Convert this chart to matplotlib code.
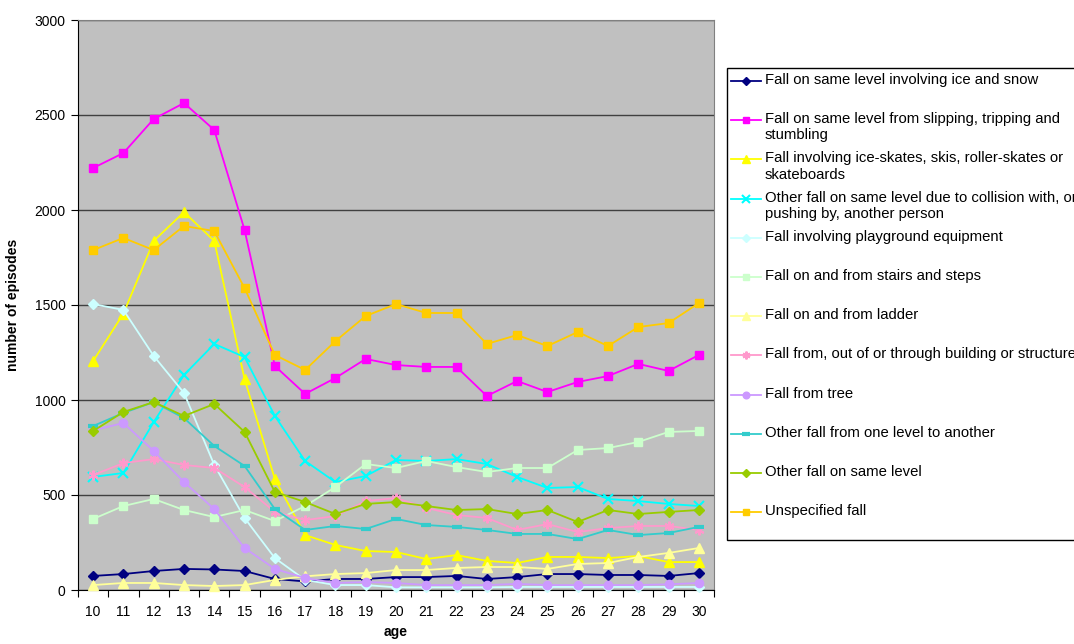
import matplotlib
matplotlib.use('Agg')
import matplotlib.pyplot as plt
from matplotlib.lines import Line2D
from matplotlib.patches import Rectangle
from matplotlib.ticker import MultipleLocator, FixedLocator

plt.rcParams['font.family'] = ['Liberation Sans', 'DejaVu Sans']

ages = list(range(10, 31))

ice_snow = [74, 84, 100, 111, 108, 100, 58, 45, 58, 58, 68, 68, 74, 58, 68, 84, 84, 79, 79, 74, 89]
slipping = [2221, 2300, 2479, 2563, 2421, 1895, 1179, 1032, 1116, 1216, 1184, 1174, 1174, 1021, 1100,
            1042, 1095, 1126, 1190, 1153, 1237]
skates = [1205, 1455, 1837, 1989, 1837, 1110, 584, 289, 237, 205, 200, 163, 184, 153, 142, 174, 174,
          168, 179, 147, 147]
collision = [595, 616, 884, 1132, 1295, 1226, 916, 679, 568, 600, 684, 679, 689, 663, 595, 537, 542,
             479, 468, 453, 442]
playground = [1505, 1474, 1232, 1037, 658, 379, 168, 53, 26, 26, 14, 14, 14, 14, 16, 16, 16, 16, 16, 16, 16]
stairs = [374, 442, 479, 421, 384, 421, 363, 442, 542, 663, 642, 679, 647, 621, 642, 642, 737, 747,
          779, 832, 837]
ladder = [26, 37, 37, 26, 21, 26, 53, 72, 84, 89, 105, 105, 116, 121, 121, 111, 137, 142, 174, 195, 221]
building = [605, 668, 689, 658, 642, 542, 411, 368, 389, 468, 484, 432, 395, 379, 316, 347, 305, 326,
            337, 337, 316]
tree = [840, 879, 732, 568, 426, 221, 111, 63, 37, 42, 37, 26, 26, 26, 32, 26, 26, 26, 26, 30, 37]
one_level = [863, 932, 989, 905, 758, 653, 426, 316, 337, 321, 374, 342, 332, 316, 295, 295, 268, 316,
             289, 300, 332]
other_same = [837, 937, 989, 916, 979, 832, 516, 463, 400, 453, 463, 442, 421, 426, 400, 421, 358, 421,
              400, 411, 421]
unspecified = [1789, 1853, 1789, 1916, 1889, 1589, 1237, 1158, 1310, 1442, 1505, 1458, 1458, 1295, 1342,
               1284, 1358, 1284, 1384, 1405, 1510]

labels = [
    "Fall on same level involving ice and snow",
    "Fall on same level from slipping, tripping and\nstumbling",
    "Fall involving ice-skates, skis, roller-skates or\nskateboards",
    "Other fall on same level due to collision with, or\npushing by, another person",
    "Fall involving playground equipment",
    "Fall on and from stairs and steps",
    "Fall on and from ladder",
    "Fall from, out of or through building or structure",
    "Fall from tree",
    "Other fall from one level to another",
    "Other fall on same level",
    "Unspecified fall",
]
series = [ice_snow, slipping, skates, collision, playground, stairs, ladder, building, tree,
          one_level, other_same, unspecified]

# colour, marker, marker size, marker edge width
styles = [
    ('#000080', 'D', 5, 1),
    ('#FF00FF', 's', 6, 1),
    ('#FFFF00', '^', 7, 1),
    ('#00FFFF', 'x', 7, 1.5),
    ('#CCFFFF', 'D', 5, 1),
    ('#CCFFCC', 's', 6, 1),
    ('#FFFF99', '^', 7, 1),
    ('#FF99CC', (6, 2, 0), 7, 1.5),
    ('#CC99FF', 'o', 6, 1),
    ('#33CCCC', '_', 7, 3),
    ('#99CC00', 'D', 5, 1),
    ('#FFCC00', 's', 6, 1),
]

W, H = 1074, 644
fig = plt.figure(figsize=(W / 100, H / 100), dpi=100)
ax = fig.add_axes([78 / W, (H - 590) / H, (714 - 78) / W, (590 - 20) / H])
ax.set_facecolor('#C0C0C0')

for vals, (col, mk, ms, mew) in zip(series, styles):
    ax.plot(ages, vals, color=col, lw=1.3, marker=mk, ms=ms, mew=mew,
            mec=col, mfc=col, clip_on=False, zorder=3)

ax.set_xlim(9.5, 30.5)
ax.set_ylim(0, 3000)
ax.yaxis.set_major_locator(MultipleLocator(500))
ax.grid(axis='y', color='#404040', lw=1.0, zorder=1)
ax.set_axisbelow(True)

ax.set_xticks(ages)
ax.xaxis.set_minor_locator(FixedLocator([a + 0.5 for a in range(9, 31)]))
ax.tick_params(axis='x', which='major', length=0, labelsize=10, pad=11)
ax.tick_params(axis='x', which='minor', length=5, width=0.8, direction='out')
ax.tick_params(axis='y', length=5, width=0.8, labelsize=10, direction='out', pad=4)

for side in ('top', 'right'):
    ax.spines[side].set_color('#808080')
ax.spines['left'].set_color('black')
ax.spines['bottom'].set_color('black')

ax.set_xlabel('age', fontsize=10, fontweight='bold', labelpad=4)
ax.set_ylabel('number of episodes', fontsize=10, fontweight='bold', labelpad=10)

# legend box drawn by hand so two-line labels keep their handle on the first line
box = Rectangle((727 / W, 1 - 540 / H), 400 / W, (540 - 68) / H, transform=fig.transFigure,
                facecolor='white', edgecolor='black', lw=1.0, clip_on=False, zorder=0)
fig.add_artist(box)
for i, (lab, (col, mk, ms, mew)) in enumerate(zip(labels, styles)):
    yp = 1 - (81 + i * 39.2) / H
    fig.add_artist(Line2D([731 / W, 761 / W], [yp, yp], transform=fig.transFigure, color=col,
                          lw=1.3))
    fig.add_artist(Line2D([746 / W], [yp], transform=fig.transFigure, color=col, marker=mk,
                          ms=ms * 0.8, mew=mew, mec=col, mfc=col))
    fig.text(765 / W, yp + 8 / H, lab, fontsize=10.7, va='top', ha='left', linespacing=1.2)

fig.savefig('out.png', dpi=100)
